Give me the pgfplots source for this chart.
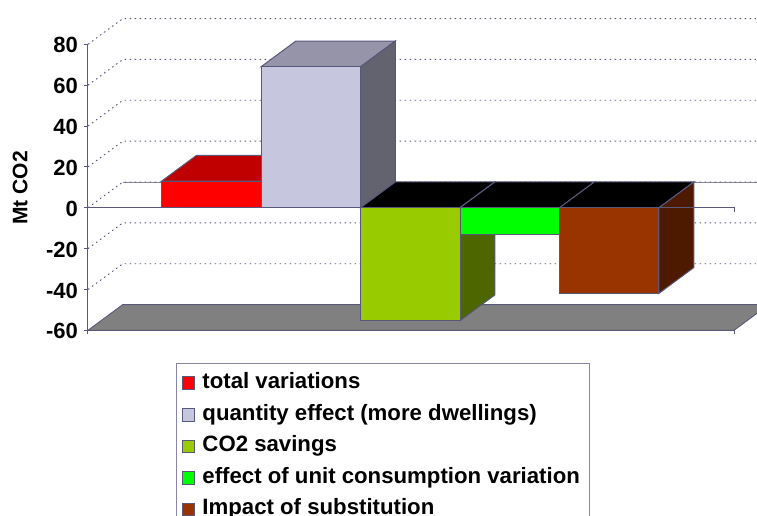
\documentclass[border=0pt]{standalone}
\usepackage{pgfplots}
\pgfplotsset{compat=1.18}
\usepackage{fontspec}
\setmainfont{Liberation Sans}
\definecolor{edge}{RGB}{88,88,125}
\definecolor{legedge}{RGB}{135,135,165}
\definecolor{lilac}{RGB}{198,198,222}
\definecolor{lilactop}{RGB}{150,148,168}
\definecolor{lilacside}{RGB}{99,99,112}
\definecolor{redtop}{RGB}{192,0,0}
\definecolor{olive}{RGB}{153,204,0}
\definecolor{oliveside}{RGB}{77,102,0}
\definecolor{brick}{RGB}{153,51,0}
\definecolor{brickside}{RGB}{77,26,0}
\definecolor{floorgrey}{RGB}{128,128,128}
\pgfplotsset{
  face/.style={forget plot,no markers,fill=#1,draw=edge,line width=1pt},
  grid3d/.style={forget plot,no markers,edge,line width=0.9pt,dash pattern=on 1.6pt off 3.4pt},
  frontbar/.style={ybar,bar width=99.5pt,bar shift=0pt,fill=#1,draw=edge,line width=1pt,
    legend image code/.code={\draw[##1,line width=1pt] (0.5pt,-6.5pt) rectangle (12.5pt,6pt); \path (15.5pt,0pt);}},
}
\begin{document}
\begin{tikzpicture}
\begin{axis}[
    scale only axis,
    width=646pt,
    height=286pt,
    clip=false,
    xmin=-0.739, xmax=5.754,
    ymin=-60, ymax=80,
    axis x line*=bottom,
    axis y line*=left,
    axis line style={edge,line width=1pt},
    tick style={edge,line width=1pt},
    tick align=outside,
    major tick length=4pt,
    xtick={-0.739,5.754},
    xticklabels={},
    ytick={-60,-40,-20,0,20,40,60,80},
    /pgf/number format/assume math mode=true,
    yticklabel style={font=\bfseries\fontsize{22}{24}\selectfont,inner sep=0pt,xshift=-6pt,yshift=-1pt},
    ylabel={Mt CO2},
    ylabel style={font=\bfseries\fontsize{21}{24}\selectfont,at={(axis description cs:-0.105,0.4976)},anchor=center},
    legend cell align=left,
    legend style={at={(axis description cs:0.1362,-0.1143)},anchor=north west,
      draw=legedge,line width=1pt,fill=white,
      font=\bfseries\fontsize{22.2}{24}\selectfont,
      inner xsep=5.5pt,inner ysep=6pt,row sep=4.6pt,
      nodes={text height=16pt,text depth=5pt,inner ysep=3pt,inner xsep=4.5pt}},
]
% back wall gridlines
\addplot[grid3d] coordinates {(-0.739,80) (-0.389,92.6) (6.104,92.6)};
\addplot[grid3d] coordinates {(-0.739,60) (-0.389,72.6) (6.104,72.6)};
\addplot[grid3d] coordinates {(-0.739,40) (-0.389,52.6) (6.104,52.6)};
\addplot[grid3d] coordinates {(-0.739,20) (-0.389,32.6) (6.104,32.6)};
\addplot[forget plot,no markers,legedge,line width=0.9pt] coordinates {(-0.389,12.6) (6.104,12.6)};
\addplot[grid3d] coordinates {(-0.739,0) (-0.389,12.6) (6.104,12.6)};
\addplot[grid3d] coordinates {(-0.739,-20) (-0.389,-7.4) (6.104,-7.4)};
\addplot[grid3d] coordinates {(-0.739,-40) (-0.389,-27.4) (6.104,-27.4)};
% floor
\addplot[forget plot,no markers,fill=floorgrey,draw=edge,line width=0.9pt] coordinates {(-0.739,-60) (-0.389,-47.4) (6.104,-47.4) (5.754,-60)} -- cycle;
\addplot[grid3d] coordinates {(-0.389,-47.4) (6.104,-47.4)};
% total variations
\addplot[face=redtop] coordinates {(0,13) (0.35,25.6) (1.35,25.6) (1,13)} -- cycle;
\addplot[frontbar=red] coordinates {(0.5,13)};
\addlegendentry{total variations}
% quantity effect
\addplot[face=lilactop] coordinates {(1,69) (1.35,81.6) (2.35,81.6) (2,69)} -- cycle;
\addplot[face=lilacside] coordinates {(2,0) (2.35,12.6) (2.35,81.6) (2,69)} -- cycle;
\addplot[frontbar=lilac] coordinates {(1.5,69)};
\addlegendentry{quantity effect (more dwellings)}
% CO2 savings
\addplot[face=black] coordinates {(2,0) (2.35,12.6) (3.35,12.6) (3,0)} -- cycle;
\addplot[face=oliveside] coordinates {(3,0) (3.35,12.6) (3.35,-42.7) (3,-55.3)} -- cycle;
\addplot[frontbar=olive] coordinates {(2.5,-55.3)};
\addlegendentry{CO2 savings}
% unit consumption
\addplot[face=black] coordinates {(3,0) (3.35,12.6) (4.35,12.6) (4,0)} -- cycle;
\addplot[frontbar=green] coordinates {(3.5,-12.9)};
\addlegendentry{effect of unit consumption variation\hspace{4pt}}
% substitution
\addplot[face=black] coordinates {(4,0) (4.35,12.6) (5.35,12.6) (5,0)} -- cycle;
\addplot[face=brickside] coordinates {(5,0) (5.35,12.6) (5.35,-29.3) (5,-41.9)} -- cycle;
\addplot[frontbar=brick] coordinates {(4.5,-41.9)};
\addlegendentry{Impact of substitution}
% zero line
\addplot[forget plot,no markers,edge,line width=1pt] coordinates {(-0.739,0) (5.754,0) (5.754,-2.2)};
\end{axis}
\pgfresetboundingbox
\useasboundingbox (-88pt,-184.7pt) rectangle (669pt,330.3pt);
\end{tikzpicture}
\end{document}
